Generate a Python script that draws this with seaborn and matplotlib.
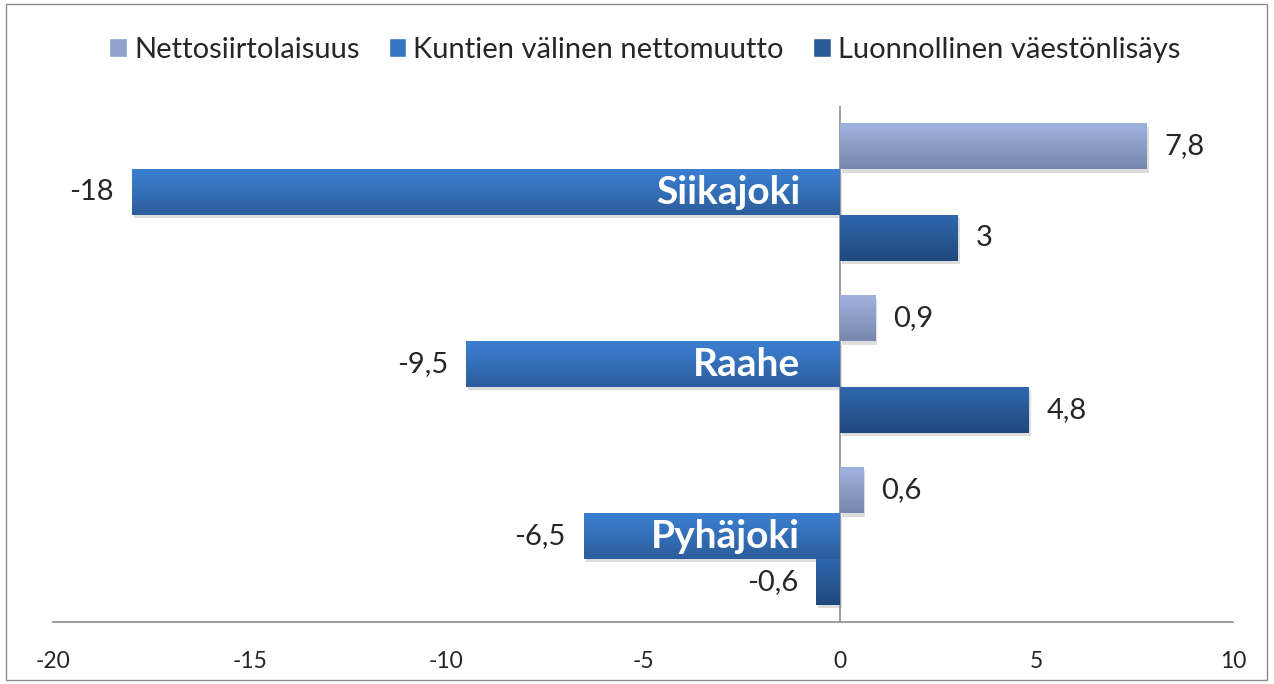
import numpy as np
import pandas as pd
import seaborn as sns
import matplotlib.pyplot as plt
from matplotlib.patches import Patch, Rectangle
from matplotlib.colors import LinearSegmentedColormap
import matplotlib.patheffects as pe

# data
kunnat = ['Siikajoki', 'Raahe', 'Pyhäjoki']
sarjat = ['Nettosiirtolaisuus', 'Kuntien välinen nettomuutto', 'Luonnollinen väestönlisäys']
nettosiirtolaisuus = [7.8, 0.9, 0.6]
kuntien_valinen = [-18, -9.5, -6.5]
luonnollinen = [3, 4.8, -0.6]
xticks = [-20, -15, -10, -5, 0, 5, 10]

# gradient colours (top, bottom) per series
varit = {
    'Nettosiirtolaisuus': ('#9fb3dd', '#7688ad'),
    'Kuntien välinen nettomuutto': ('#3c80d2', '#2c5d9c'),
    'Luonnollinen väestönlisäys': ('#2e68ad', '#21487d'),
}

df = pd.DataFrame({
    'kunta': kunnat * 3,
    'sarja': [s for s in sarjat for _ in kunnat],
    'arvo': nettosiirtolaisuus + kuntien_valinen + luonnollinen,
})

sns.set_style('white')
plt.rcParams['font.family'] = ['Lato', 'DejaVu Sans']

fig = plt.figure(figsize=(12.74, 6.84), dpi=100)
ax = fig.add_axes([53 / 1274, 1 - 622 / 684, 1180 / 1274, 516 / 684])

palette = {s: varit[s][0] for s in sarjat}
sns.barplot(data=df, x='arvo', y='kunta', hue='sarja', order=kunnat, hue_order=sarjat,
            orient='h', palette=palette, width=0.8, saturation=1, legend=False, ax=ax)

ax.set_xlim(-20, 10)
ax.set_ylim(2.5, -0.5)

# gradients + shadow on each bar
for cont, s in zip(ax.containers, sarjat):
    cmap = LinearSegmentedColormap.from_list(s, list(varit[s]))
    for p in cont:
        p.set_linewidth(0)
        p.set_path_effects([pe.SimplePatchShadow(offset=(1.5, -2.5), alpha=0.18, shadow_rgbFace='#444444'),
                            pe.Normal()])
        x0, y0 = p.get_x(), p.get_y()
        w, h = p.get_width(), p.get_height()
        grad = np.linspace(0, 1, 64).reshape(-1, 1)
        im = ax.imshow(grad, extent=[x0, x0 + w, y0 + h, y0], aspect='auto', cmap=cmap,
                       zorder=p.get_zorder() + 0.1, interpolation='bicubic')
        im.set_clip_path(p)
    ax.bar_label(cont, labels=[f'{v:g}'.replace('.', ',') for v in cont.datavalues],
                 padding=13, fontsize=21)

ax.set_xlim(-20, 10)
ax.set_ylim(2.5, -0.5)

# category names inside the middle bars
for i, k in enumerate(kunnat):
    ax.text(-1.0, i, k, ha='right', va='center', color='white', fontsize=28,
            fontweight='bold', zorder=10)

ax.set_yticks([])
ax.set_ylabel('')
ax.set_xlabel('')
ax.set_xticks(xticks)
ax.set_xticklabels([str(t) for t in xticks], fontsize=16.5)
ax.tick_params(axis='x', length=0, pad=21)
for sp in ['top', 'right', 'left']:
    ax.spines[sp].set_visible(False)
ax.spines['bottom'].set_color('#8c8c8c')
ax.spines['bottom'].set_linewidth(1.2)
ax.axvline(0, color='#8c8c8c', lw=1.2, zorder=1)

handles = [Patch(facecolor=c, label=s) for s, c in
           zip(sarjat, ['#8fa2cc', '#3576c2', '#2a5a97'])]
fig.legend(handles=handles, loc='center', bbox_to_anchor=(0.506, 1 - 50 / 684), ncol=3,
           frameon=False, fontsize=21, handlelength=0.6, handleheight=0.6,
           handletextpad=0.25, columnspacing=1.0)

fig.add_artist(Rectangle((6 / 1274, 4 / 684), 1261 / 1274, 676 / 684, transform=fig.transFigure,
                         fill=False, edgecolor='#8c8c8c', linewidth=1))

fig.savefig('out.png', dpi=100)
